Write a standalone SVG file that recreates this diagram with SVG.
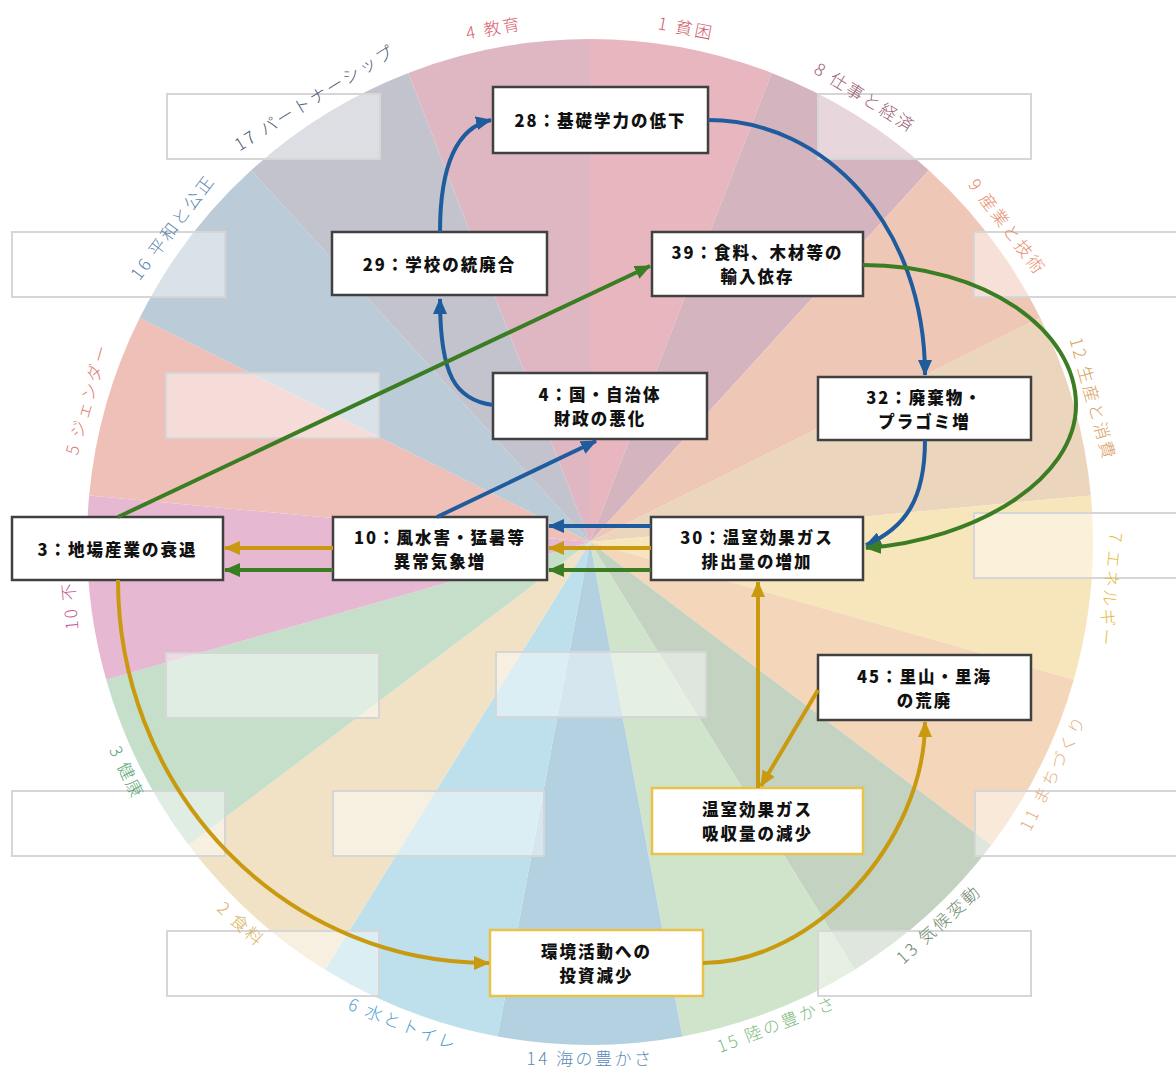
<svg xmlns="http://www.w3.org/2000/svg" width="1176" height="1070" viewBox="0 0 1176 1070">
<defs>
<style>
.lbl{font-family:"Noto Sans CJK JP","Noto Sans",sans-serif;font-size:17px;font-weight:300;letter-spacing:2.5px;text-anchor:middle;dominant-baseline:central}
.ph{fill:#fff;fill-opacity:.45;stroke:#d6d6d6;stroke-width:2}
.nd rect{fill:#fff;stroke:#404040;stroke-width:2.5}
.nd.y rect{stroke:#e9c24a}
.nd text{font-family:"Noto Sans CJK JP",sans-serif;font-weight:900;font-size:16.5px;letter-spacing:2px;text-anchor:middle;dominant-baseline:central;fill:#111}
.c{fill:none;stroke-width:4}
.b{stroke:#1f5c9e}
.g{stroke:#c9990f}
.gr{stroke:#3b7d22}
</style>
<marker id="mb" viewBox="0 0 16 14" refX="15" refY="7" markerWidth="16" markerHeight="14" markerUnits="userSpaceOnUse" orient="auto"><path d="M0,0 L16,7 L0,14 Z" fill="#1f5c9e"/></marker>
<marker id="mg" viewBox="0 0 16 14" refX="15" refY="7" markerWidth="16" markerHeight="14" markerUnits="userSpaceOnUse" orient="auto"><path d="M0,0 L16,7 L0,14 Z" fill="#c9990f"/></marker>
<marker id="mgr" viewBox="0 0 16 14" refX="15" refY="7" markerWidth="16" markerHeight="14" markerUnits="userSpaceOnUse" orient="auto"><path d="M0,0 L16,7 L0,14 Z" fill="#3b7d22"/></marker>
</defs>
<rect width="1176" height="1070" fill="#fff"/>
<g id="wedges">
<path d="M590,542 L590,39 A503,503 0 0,1 771.70,72.97 Z" fill="#e8b6bf"/>
<path d="M590,542 L771.70,72.97 A503,503 0 0,1 928.87,170.28 Z" fill="#d4b4bf"/>
<path d="M590,542 L928.87,170.28 A503,503 0 0,1 1040.27,317.80 Z" fill="#efc7b7"/>
<path d="M590,542 L1040.27,317.80 A503,503 0 0,1 1090.85,495.59 Z" fill="#ecd5bd"/>
<path d="M590,542 L1090.85,495.59 A503,503 0 0,1 1073.80,679.65 Z" fill="#f7e5bc"/>
<path d="M590,542 L1073.80,679.65 A503,503 0 0,1 991.40,845.12 Z" fill="#f4d7ba"/>
<path d="M590,542 L991.40,845.12 A503,503 0 0,1 854.79,969.66 Z" fill="#c4d2c2"/>
<path d="M590,542 L854.79,969.66 A503,503 0 0,1 682.43,1036.43 Z" fill="#d0e4cb"/>
<path d="M590,542 L682.43,1036.43 A503,503 0 0,1 497.57,1036.43 Z" fill="#b4d1e2"/>
<path d="M590,542 L497.57,1036.43 A503,503 0 0,1 325.21,969.66 Z" fill="#bde0ec"/>
<path d="M590,542 L325.21,969.66 A503,503 0 0,1 188.60,845.12 Z" fill="#f1e2c5"/>
<path d="M590,542 L188.60,845.12 A503,503 0 0,1 106.20,679.65 Z" fill="#c5dfcb"/>
<path d="M590,542 L106.20,679.65 A503,503 0 0,1 89.15,495.59 Z" fill="#e6b8d1"/>
<path d="M590,542 L89.15,495.59 A503,503 0 0,1 139.73,317.80 Z" fill="#efc0b8"/>
<path d="M590,542 L139.73,317.80 A503,503 0 0,1 251.13,170.28 Z" fill="#bccbd8"/>
<path d="M590,542 L251.13,170.28 A503,503 0 0,1 408.30,72.97 Z" fill="#c2c3cd"/>
<path d="M590,542 L408.30,72.97 A503,503 0 0,1 590,39 Z" fill="#dfb7c2"/>
</g>
<g id="placeholders">
<rect class="ph" x="167" y="94" width="213" height="65"/>
<rect class="ph" x="818" y="94" width="213" height="65"/>
<rect class="ph" x="12" y="232" width="213" height="65"/>
<rect class="ph" x="974" y="232" width="213" height="65"/>
<rect class="ph" x="166" y="373" width="213" height="65"/>
<rect class="ph" x="974" y="513" width="213" height="65"/>
<rect class="ph" x="166" y="653" width="213" height="65"/>
<rect class="ph" x="496" y="652" width="210" height="65"/>
<rect class="ph" x="12" y="791" width="213" height="65"/>
<rect class="ph" x="333" y="791" width="211" height="65"/>
<rect class="ph" x="975" y="791" width="213" height="65"/>
<rect class="ph" x="167" y="931" width="212" height="65"/>
<rect class="ph" x="818" y="931" width="213" height="65"/>
</g>
<g id="labels">
<text class="lbl" fill="#d05a6a" transform="translate(686.3,26.9) rotate(10.59)">1 貧困</text>
<text class="lbl" fill="#9c5f72" transform="translate(865.8,96.5) rotate(31.76)">8 仕事と経済</text>
<text class="lbl" fill="#e88a6a" transform="translate(1008.2,226.2) rotate(52.94)">9 産業と技術</text>
<text class="lbl" fill="#d9a060" transform="translate(1094,398.6) rotate(74.12)">12 生産と消費</text>
<text class="lbl" fill="#e8b840" transform="translate(1111.8,590.3) rotate(95.29)">7 エネルギー</text>
<text class="lbl" fill="#e8b080" transform="translate(1051.9,772) rotate(-63.53)">11 まちづくり</text>
<text class="lbl" fill="#6f8a70" transform="translate(938,923.3) rotate(-42.35)">13 気候変動</text>
<text class="lbl" fill="#80bb80" transform="translate(776.4,1023.2) rotate(-21.18)">15 陸の豊かさ</text>
<text class="lbl" fill="#5a8ab8" transform="translate(590,1057) rotate(0)">14 海の豊かさ</text>
<text class="lbl" fill="#4aa0cc" transform="translate(403.6,1023.2) rotate(21.18)">6 水とトイレ</text>
<text class="lbl" fill="#d8b060" transform="translate(242,923.3) rotate(42.35)">2 食料</text>
<text class="lbl" fill="#5aa578" transform="translate(128.1,772) rotate(63.53)">3 健康</text>
<text class="lbl" fill="#c7609a" transform="translate(71,630) rotate(-95.29)" style="text-anchor:start">10 不平等</text>
<text class="lbl" fill="#e07a70" transform="translate(86,398.6) rotate(-74.12)">5 ジェンダー</text>
<text class="lbl" fill="#5a84aa" transform="translate(171.8,226.2) rotate(-52.94)">16 平和と公正</text>
<text class="lbl" fill="#4a5a74" transform="translate(314.2,96.5) rotate(-31.76)">17 パートナーシップ</text>
<text class="lbl" fill="#d8606e" transform="translate(493.7,26.9) rotate(-10.59)">4 教育</text>
</g>
<g id="n28" class="nd"><rect x="493" y="87" width="215" height="66"/><text x="600.5" y="120">28：基礎学力の低下</text></g>
<g id="n29" class="nd"><rect x="332" y="232" width="215" height="63"/><text x="439.5" y="263.5">29：学校の統廃合</text></g>
<g id="n39" class="nd"><rect x="652" y="232" width="211" height="64"/><text><tspan x="757.5" y="252">39：食料、木材等の</tspan><tspan x="757.5" y="276">輸入依存</tspan></text></g>
<g id="n4" class="nd"><rect x="493" y="373" width="214" height="66"/><text><tspan x="600" y="394">4：国・自治体</tspan><tspan x="600" y="418">財政の悪化</tspan></text></g>
<g id="n32" class="nd"><rect x="818" y="377" width="213" height="63"/><text><tspan x="924.5" y="396.5">32：廃棄物・</tspan><tspan x="924.5" y="420.5">プラゴミ増</tspan></text></g>
<g id="n3" class="nd"><rect x="12" y="517" width="211" height="63"/><text x="117.5" y="548.5">3：地場産業の衰退</text></g>
<g id="n10" class="nd"><rect x="333" y="517" width="214" height="63"/><text><tspan x="440" y="536.5">10：風水害・猛暑等</tspan><tspan x="440" y="560.5">異常気象増</tspan></text></g>
<g id="n30" class="nd"><rect x="651" y="517" width="212" height="63"/><text><tspan x="757" y="536.5">30：温室効果ガス</tspan><tspan x="757" y="560.5">排出量の増加</tspan></text></g>
<g id="n45" class="nd"><rect x="818" y="655" width="213" height="65"/><text><tspan x="924.5" y="675.5">45：里山・里海</tspan><tspan x="924.5" y="699.5">の荒廃</tspan></text></g>
<g id="nAbs" class="nd y"><rect x="652" y="788" width="211" height="66"/><text><tspan x="757.5" y="809">温室効果ガス</tspan><tspan x="757.5" y="833">吸収量の減少</tspan></text></g>
<g id="nInv" class="nd y"><rect x="490" y="930" width="213" height="66"/><text><tspan x="596.5" y="951">環境活動への</tspan><tspan x="596.5" y="975">投資減少</tspan></text></g>
<g id="connectors">
<path class="c b" d="M493,405 C455,400 440,375 440,299" marker-end="url(#mb)"/>
<path class="c b" d="M440,232 C440,170 455,128 491,120" marker-end="url(#mb)"/>
<path class="c b" d="M708,120 C825,120 925,225 925,375" marker-end="url(#mb)"/>
<path class="c b" d="M925,440 C925,500 905,528 866,545" marker-end="url(#mb)"/>
<path class="c b" d="M651,526 L549,526" marker-end="url(#mb)"/>
<path class="c b" d="M437,517 L596,441" marker-end="url(#mb)"/>
<path class="c g" d="M651,548 L549,548" marker-end="url(#mg)"/>
<path class="c g" d="M333,548 L225,548" marker-end="url(#mg)"/>
<path class="c g" d="M118,580 A370,383 0 0,0 489,963" marker-end="url(#mg)"/>
<path class="c g" d="M703,963 C814,963 925,841 925,722" marker-end="url(#mg)"/>
<path class="c g" d="M818,690 L761,786" marker-end="url(#mg)"/>
<path class="c g" d="M758,788 L758,582" marker-end="url(#mg)"/>
<path class="c gr" d="M118,517 L650,266" marker-end="url(#mgr)"/>
<path class="c gr" d="M863,265 C985,265 1076,330 1076,405 C1076,480 975,540 866,548" marker-end="url(#mgr)"/>
<path class="c gr" d="M651,570 L549,570" marker-end="url(#mgr)"/>
<path class="c gr" d="M333,570 L225,570" marker-end="url(#mgr)"/>
</g>
</svg>
